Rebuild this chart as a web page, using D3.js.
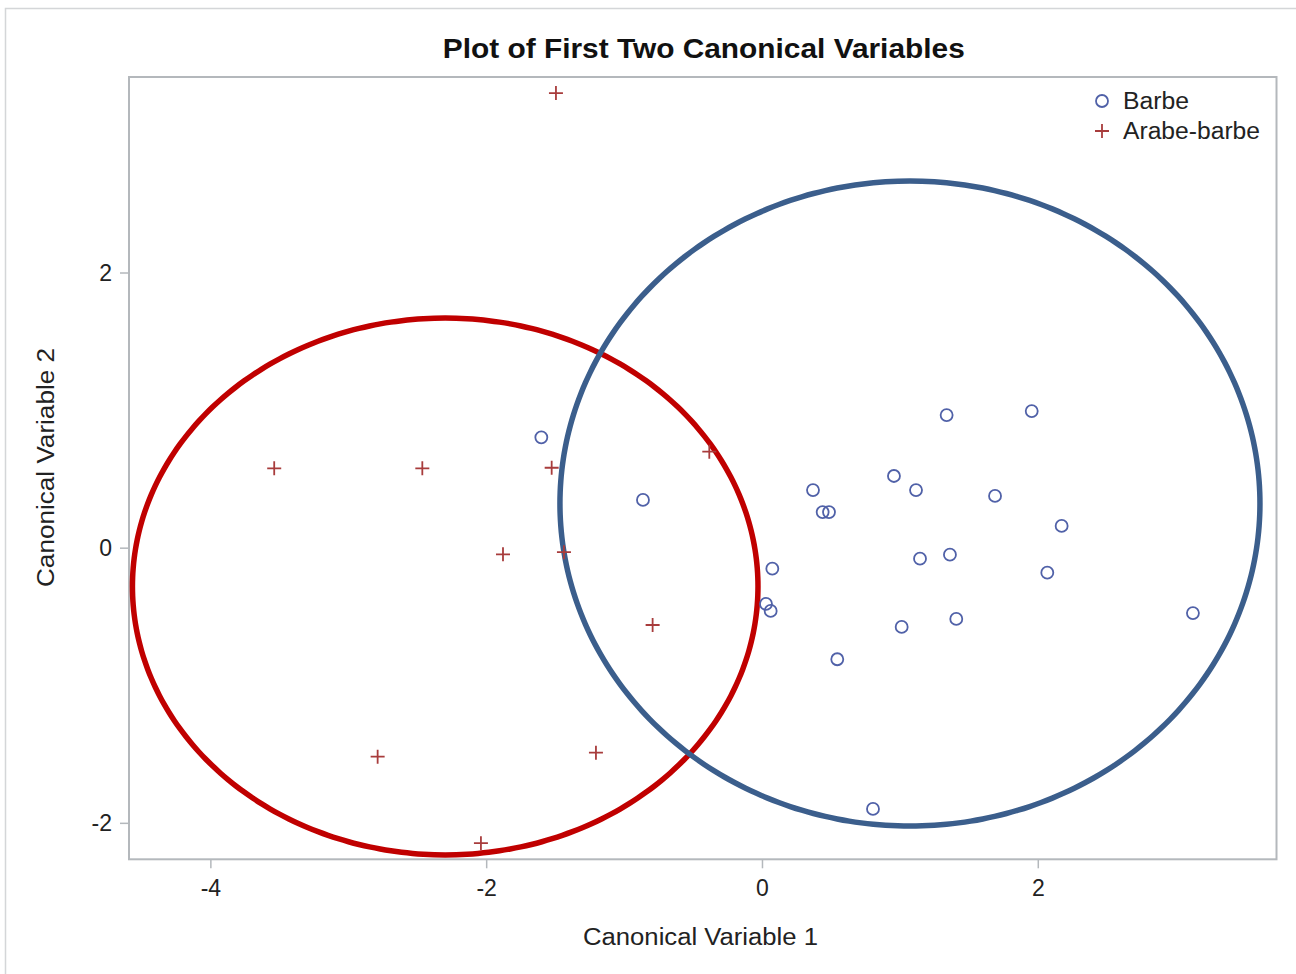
<!DOCTYPE html>
<html>
<head>
<meta charset="utf-8">
<script src="https://cdn.jsdelivr.net/npm/d3@7"></script>
<style>
  html, body { margin: 0; padding: 0; background: #fff; }
  svg { display: block; }
</style>
</head>
<body>
<div id="chart"></div>
<script>
// Canonical scores, group "Barbe"
const barbeX = [-1.600, -0.863, 0.075, 0.029, 0.063, 0.370, 0.440, 0.486, 0.546, 0.805, 0.957,
                1.013, 1.117, 1.146, 1.339, 1.363, 1.409, 1.690, 1.956, 2.069, 2.173, 3.125];
const barbeY = [0.802, 0.347, -0.153, -0.409, -0.460, 0.419, 0.259, 0.259, -0.811, -1.899, 0.521,
                -0.576, 0.419, -0.080, 0.964, -0.051, -0.518, 0.376, 0.993, -0.182, 0.158, -0.475];

// Canonical scores, group "Arabe-barbe"
const arabeX = [-1.494, -3.537, -2.463, -1.525, -0.382, -1.878, -1.436, -0.793, -2.787, -1.204, -2.038];
const arabeY = [3.304, 0.577, 0.577, 0.581, 0.698, -0.048, -0.033, -0.562, -1.519, -1.490, -2.148];

// Group ellipses: centre and semi-axes in canonical units
const ellipseGroups = ["Arabe-barbe", "Barbe"];
const ellipseCx = [-2.297, 1.073];
const ellipseCy = [-0.282, 0.321];
const ellipseRx = [2.268, 2.538];
const ellipseRy = [1.951, 2.344];

const xTicks = [-4, -2, 0, 2];
const yTicks = [-2, 0, 2];
const xDomain = [-4.590, 3.731];
const yDomain = [-2.265, 3.421];

const W = 1296, H = 974;
const plot = { left: 129, right: 1276.5, top: 77, bottom: 859.3 };

const colBarbe = "#5061a8";
const colArabe = "#a83c3c";
const colEllipse = { "Barbe": "#3b5e8c", "Arabe-barbe": "#c00000" };
const frameCol = "#b4b8bc";
const font = "'Liberation Sans', Arial, sans-serif";

const svg = d3.select("#chart").append("svg")
  .attr("width", W).attr("height", H);

// outer panel border
svg.append("rect")
  .attr("x", 5.5).attr("y", 8.5)
  .attr("width", W + 20).attr("height", H + 20)
  .attr("fill", "none").attr("stroke", "#d4d6d8").attr("stroke-width", 1.5);

const x = d3.scaleLinear().domain(xDomain).range([plot.left, plot.right]);
const y = d3.scaleLinear().domain(yDomain).range([plot.bottom, plot.top]);

// title
svg.append("text")
  .attr("x", (plot.left + plot.right) / 2 + 1).attr("y", 58)
  .attr("text-anchor", "middle")
  .attr("font-family", font).attr("font-weight", "bold").attr("font-size", 28)
  .attr("textLength", 522).attr("lengthAdjust", "spacingAndGlyphs")
  .attr("fill", "#111")
  .text("Plot of First Two Canonical Variables");

// clip region for marks
svg.append("clipPath").attr("id", "plotclip").append("rect")
  .attr("x", plot.left).attr("y", plot.top)
  .attr("width", plot.right - plot.left).attr("height", plot.bottom - plot.top);

// axes
const fmt = d => String(d);
const xAxis = svg.append("g")
  .attr("transform", `translate(0,${plot.bottom})`)
  .call(d3.axisBottom(x).tickValues(xTicks).tickSize(9).tickPadding(8).tickFormat(fmt));
const yAxis = svg.append("g")
  .attr("transform", `translate(${plot.left},0)`)
  .call(d3.axisLeft(y).tickValues(yTicks).tickSize(9).tickPadding(8).tickFormat(fmt));

[xAxis, yAxis].forEach(g => {
  g.select(".domain").remove();
  g.selectAll(".tick line").attr("stroke", frameCol).attr("stroke-width", 1.5);
  g.selectAll(".tick text")
    .attr("font-family", font).attr("font-size", 23).attr("fill", "#222");
});
xAxis.selectAll(".tick text").attr("dy", "0.85em");
yAxis.selectAll(".tick text").attr("dy", "0.35em");

// plot frame
svg.append("rect")
  .attr("x", plot.left).attr("y", plot.top)
  .attr("width", plot.right - plot.left).attr("height", plot.bottom - plot.top)
  .attr("fill", "none").attr("stroke", frameCol).attr("stroke-width", 2);

// axis labels
svg.append("text")
  .attr("x", 700.5).attr("y", 945)
  .attr("text-anchor", "middle")
  .attr("font-family", font).attr("font-size", 23)
  .attr("textLength", 235).attr("lengthAdjust", "spacingAndGlyphs")
  .attr("fill", "#222")
  .text("Canonical Variable 1");
svg.append("text")
  .attr("transform", `translate(54,467.5) rotate(-90)`)
  .attr("text-anchor", "middle")
  .attr("font-family", font).attr("font-size", 23)
  .attr("textLength", 239).attr("lengthAdjust", "spacingAndGlyphs")
  .attr("fill", "#222")
  .text("Canonical Variable 2");

const marks = svg.append("g").attr("clip-path", "url(#plotclip)");

// ellipses traced through the scales
const thetas = d3.range(0, 360, 2).map(d => d * Math.PI / 180);
const line = d3.line().x(d => x(d[0])).y(d => y(d[1])).curve(d3.curveCardinalClosed);
ellipseGroups.forEach((g, i) => {
  const pts = thetas.map(t => [
    ellipseCx[i] + ellipseRx[i] * Math.cos(t),
    ellipseCy[i] + ellipseRy[i] * Math.sin(t)
  ]);
  marks.append("path")
    .attr("d", line(pts))
    .attr("fill", "none")
    .attr("stroke", colEllipse[g])
    .attr("stroke-width", 5.5);
});

// Barbe: open circles
const barbe = barbeX.map((v, i) => [v, barbeY[i]]);
marks.selectAll("circle.barbe").data(barbe).join("circle")
  .attr("class", "barbe")
  .attr("cx", d => x(d[0])).attr("cy", d => y(d[1]))
  .attr("r", 6)
  .attr("fill", "none").attr("stroke", colBarbe).attr("stroke-width", 1.8);

// Arabe-barbe: plus signs
const arabe = arabeX.map((v, i) => [v, arabeY[i]]);
const crossPath = s => `M${-s},0H${s}M0,${-s}V${s}`;
marks.selectAll("path.arabe").data(arabe).join("path")
  .attr("class", "arabe")
  .attr("transform", d => `translate(${x(d[0])},${y(d[1])})`)
  .attr("d", crossPath(7))
  .attr("fill", "none").attr("stroke", colArabe).attr("stroke-width", 1.8);

// legend
const legend = svg.append("g").attr("transform", "translate(1102,101)");
legend.append("circle").attr("cx", 0).attr("cy", 0).attr("r", 6)
  .attr("fill", "none").attr("stroke", colBarbe).attr("stroke-width", 1.8);
legend.append("text").attr("x", 21).attr("y", 0).attr("dy", "0.36em")
  .attr("font-family", font).attr("font-size", 23)
  .attr("textLength", 66).attr("lengthAdjust", "spacingAndGlyphs")
  .attr("fill", "#222").text("Barbe");
legend.append("path").attr("transform", "translate(0,30)").attr("d", crossPath(7))
  .attr("fill", "none").attr("stroke", colArabe).attr("stroke-width", 1.8);
legend.append("text").attr("x", 21).attr("y", 30).attr("dy", "0.36em")
  .attr("font-family", font).attr("font-size", 23)
  .attr("textLength", 137).attr("lengthAdjust", "spacingAndGlyphs")
  .attr("fill", "#222").text("Arabe-barbe");
</script>
</body>
</html>
